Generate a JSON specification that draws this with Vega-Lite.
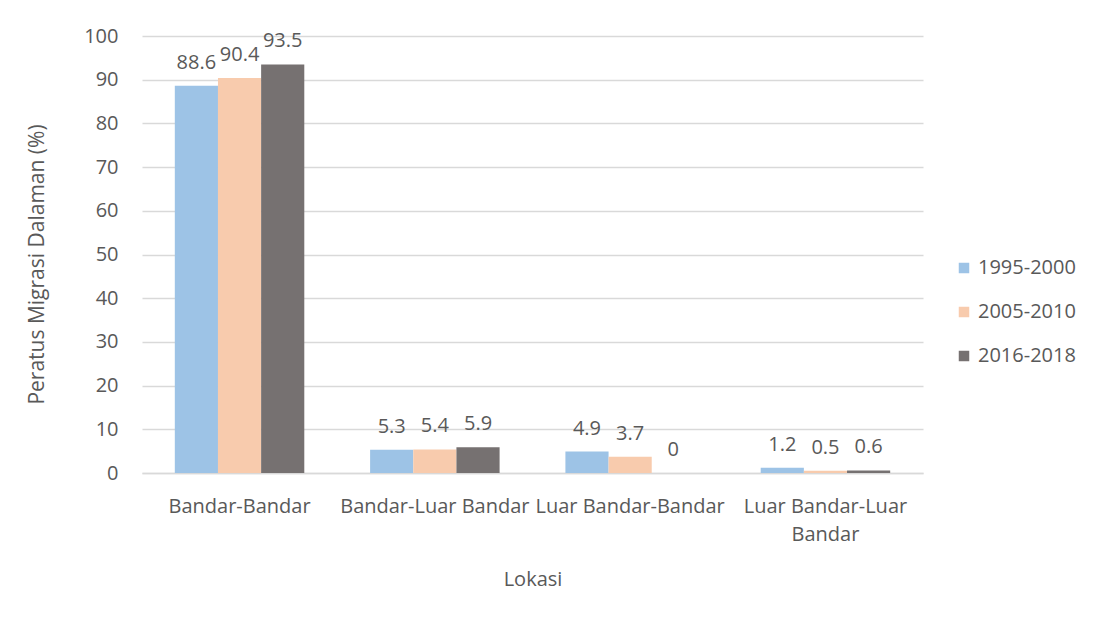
{
  "$schema": "https://vega.github.io/schema/vega-lite/v6.json",
  "autosize": {"type": "none"},
  "width": 781,
  "height": 437,
  "padding": {"left": 142, "top": 36, "right": 181, "bottom": 146},
  "background": "white",
  "config": {
    "font": "Open Sans",
    "view": {"stroke": null},
    "axis": {"labelFont": "Open Sans", "titleFont": "Open Sans", "labelColor": "#595959", "titleColor": "#595959", "titleFontWeight": "normal", "labelFontSize": 20, "titleFontSize": 20},
    "legend": {"labelFont": "Open Sans", "labelColor": "#595959", "labelFontSize": 20}
  },
  "data": {
    "values": [
      {"lokasi": "Bandar-Bandar", "tempoh": "1995-2000", "nilai": 88.6},
      {"lokasi": "Bandar-Bandar", "tempoh": "2005-2010", "nilai": 90.4},
      {"lokasi": "Bandar-Bandar", "tempoh": "2016-2018", "nilai": 93.5},
      {"lokasi": "Bandar-Luar Bandar", "tempoh": "1995-2000", "nilai": 5.3},
      {"lokasi": "Bandar-Luar Bandar", "tempoh": "2005-2010", "nilai": 5.4},
      {"lokasi": "Bandar-Luar Bandar", "tempoh": "2016-2018", "nilai": 5.9},
      {"lokasi": "Luar Bandar-Bandar", "tempoh": "1995-2000", "nilai": 4.9},
      {"lokasi": "Luar Bandar-Bandar", "tempoh": "2005-2010", "nilai": 3.7},
      {"lokasi": "Luar Bandar-Bandar", "tempoh": "2016-2018", "nilai": 0},
      {"lokasi": "Luar Bandar-Luar Bandar", "tempoh": "1995-2000", "nilai": 1.2},
      {"lokasi": "Luar Bandar-Luar Bandar", "tempoh": "2005-2010", "nilai": 0.5},
      {"lokasi": "Luar Bandar-Luar Bandar", "tempoh": "2016-2018", "nilai": 0.6}
    ]
  },
  "encoding": {
    "x": {
      "field": "lokasi", "type": "nominal", "sort": null,
      "scale": {"paddingInner": 0.337, "paddingOuter": 0.168},
      "axis": {
        "title": "Lokasi", "labelAngle": 0, "ticks": false, "domainColor": "#d9d9d9", "domainWidth": 1.5,
        "labelPadding": 23, "labelOverlap": false, "labelLimit": 0, "labelLineHeight": 28,
        "labelExpr": "datum.label == 'Luar Bandar-Luar Bandar' ? ['Luar Bandar-Luar', 'Bandar'] : datum.label",
        "titlePadding": 25
      }
    },
    "xOffset": {"field": "tempoh", "type": "nominal", "scale": {"paddingInner": 0}},
    "y": {
      "field": "nilai", "type": "quantitative",
      "scale": {"domain": [0, 100], "nice": false},
      "axis": {
        "title": "Peratus Migrasi Dalaman (%)", "values": [0, 10, 20, 30, 40, 50, 60, 70, 80, 90, 100],
        "domain": false, "ticks": false, "gridColor": "#d9d9d9", "gridWidth": 1.5,
        "labelPadding": 24, "titlePadding": 36, "titleFontSize": 21, "titleY": 228
      }
    }
  },
  "layer": [
    {
      "mark": {"type": "bar"},
      "encoding": {
        "color": {
          "field": "tempoh", "type": "nominal",
          "scale": {"domain": ["1995-2000", "2005-2010", "2016-2018"], "range": ["#9DC3E6", "#F8CBAD", "#767171"]},
          "legend": {"title": null, "orient": "none", "legendX": 812, "legendY": 222, "symbolType": "square", "symbolSize": 110, "symbolStrokeWidth": 0, "rowPadding": 24, "labelOffset": 4}
        }
      }
    },
    {
      "mark": {"type": "text", "baseline": "alphabetic", "dy": -17, "fontSize": 20, "color": "#595959"},
      "encoding": {"text": {"field": "nilai", "type": "quantitative"}}
    }
  ]
}
